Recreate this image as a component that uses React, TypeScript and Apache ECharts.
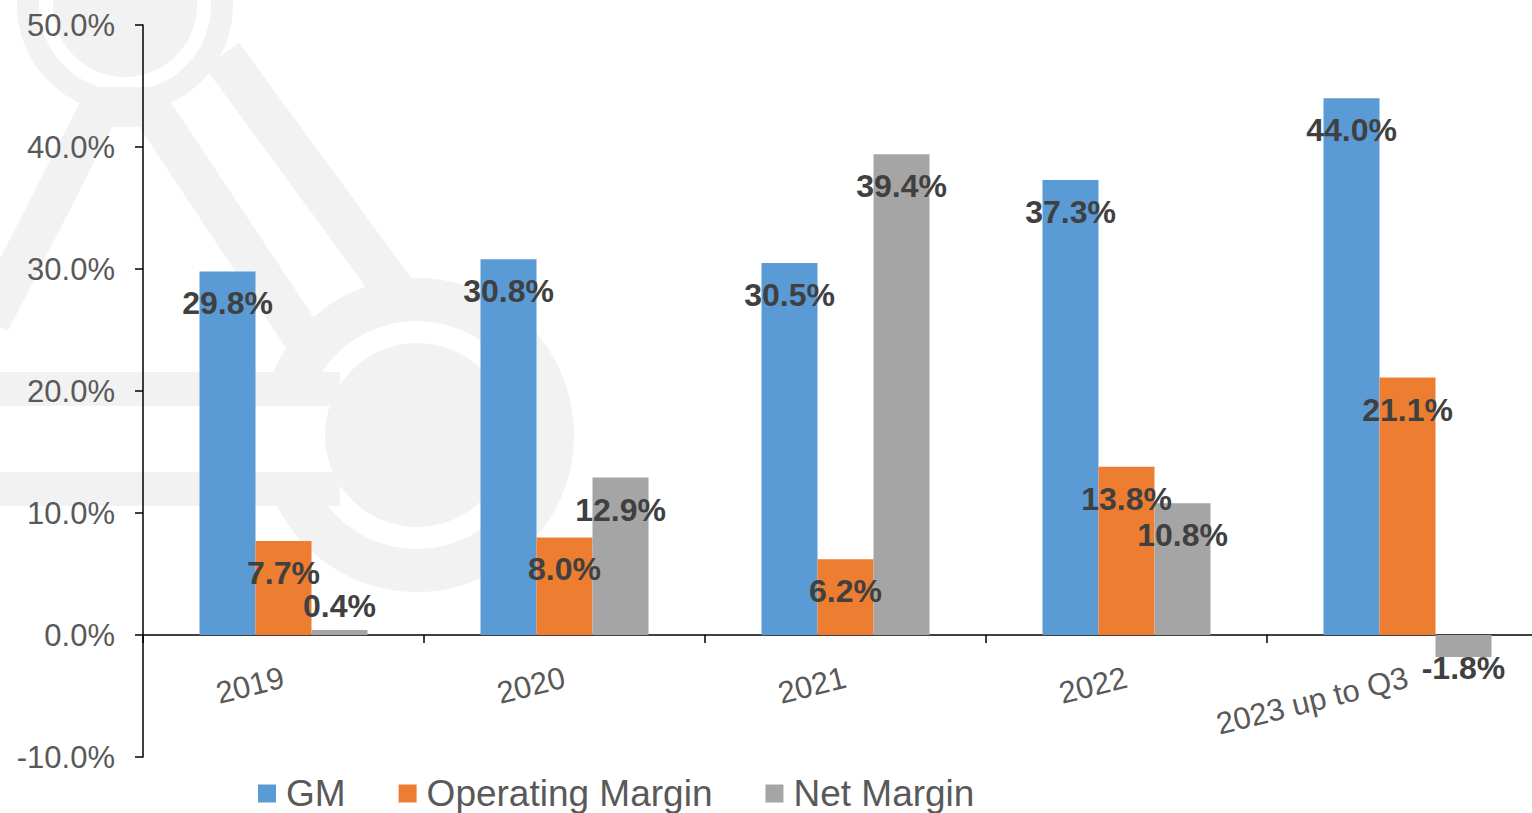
import React, { useEffect, useRef } from "react";
import * as echarts from "echarts";

const categories = ["2019", "2020", "2021", "2022", "2023 up to Q3"];
const gm = [29.8, 30.8, 30.5, 37.3, 44.0];
const operatingMargin = [7.7, 8.0, 6.2, 13.8, 21.1];
const netMargin = [0.4, 12.9, 39.4, 10.8, -1.8];
const seriesNames = ["GM", "Operating Margin", "Net Margin"];
const colors = ["#5B9BD5", "#ED7D31", "#A5A5A5"];
const yMin = -10;
const yMax = 50;
const yStep = 10;

const FONT = "'Liberation Sans', Arial, sans-serif";
const WM = "#f2f2f2";

function labelFor(v: number) {
  if (v < 0) return { position: "outside", distance: -5 };
  if (v < 3) return { position: "top", distance: 8 };
  return { position: "insideTop", distance: 16 };
}

export default function App() {
  const ref = useRef<HTMLDivElement>(null);
  useEffect(() => {
    document.body.style.margin = "0";
    const chart = echarts.init(ref.current!, undefined, { renderer: "svg" });
    const mk = (name: string, data: number[], color: string) => ({
      name,
      type: "bar",
      barWidth: 56,
      barGap: "0%",
      itemStyle: { color },
      data: data.map((v) => ({ value: v, label: labelFor(v) })),
      label: {
        show: true,
        formatter: (p: any) => p.value.toFixed(1) + "%",
        fontFamily: FONT,
        fontSize: 32,
        fontWeight: "bold",
        color: "#404040",
      },
    });
    chart.setOption({
      animation: false,
      backgroundColor: "#ffffff",
      textStyle: { fontFamily: FONT },
      graphic: [
        { type: "circle", z: -10, shape: { cx: 125, cy: 5, r: 72 }, style: { fill: WM } },
        { type: "ring", z: -10, shape: { cx: 125, cy: 5, r: 108, r0: 86 }, style: { fill: WM } },
        { type: "ring", z: -10, shape: { cx: 417, cy: 435, r: 157, r0: 114 }, style: { fill: WM } },
        { type: "rect", z: -9, shape: { x: 240, y: 406, width: 100, height: 66 }, style: { fill: "#ffffff" } },
        { type: "line", z: -9, shape: { x1: -10, y1: 389, x2: 340, y2: 389 }, style: { stroke: WM, lineWidth: 34 } },
        { type: "line", z: -9, shape: { x1: -10, y1: 489, x2: 340, y2: 489 }, style: { stroke: WM, lineWidth: 34 } },
        { type: "circle", z: -8, shape: { cx: 417, cy: 435, r: 92 }, style: { fill: WM } },
        { type: "line", z: -10, shape: { x1: 222, y1: 55, x2: 405, y2: 305 }, style: { stroke: WM, lineWidth: 42 } },
        {
          type: "polyline",
          z: -10,
          shape: { points: [[-10, 322], [100, 107], [150, 107], [318, 360]] },
          style: { stroke: WM, lineWidth: 40, fill: null, lineJoin: "miter" },
        },
      ],
      grid: { left: 143, top: 25, width: 1405, height: 732, outerBoundsMode: "none" },
      legend: {
        left: 253,
        top: 770,
        itemWidth: 18,
        itemHeight: 18,
        itemGap: 53,
        icon: "rect",
        data: seriesNames,
        textStyle: { fontFamily: FONT, fontSize: 37, color: "#595959", padding: [0, 0, 0, 5] },
      },
      xAxis: {
        type: "category",
        data: categories,
        offset: -122,
        axisLine: { show: true, onZero: false, lineStyle: { color: "#000", width: 1.5 } },
        axisTick: { show: true, length: 8, lineStyle: { color: "#000", width: 1.5 } },
        axisLabel: {
          rotate: 14,
          margin: 42,
          fontFamily: FONT,
          fontSize: 31,
          color: "#595959",
          interval: 0,
        },
        splitLine: { show: false },
      },
      yAxis: {
        type: "value",
        min: yMin,
        max: yMax,
        interval: yStep,
        axisLine: { show: true, lineStyle: { color: "#000", width: 1.5 } },
        axisTick: { show: true, length: 8, lineStyle: { color: "#000", width: 1.5 } },
        axisLabel: {
          margin: 28,
          fontFamily: FONT,
          fontSize: 31,
          color: "#595959",
          formatter: (v: number) => v.toFixed(1) + "%",
        },
        splitLine: { show: false },
      },
      series: [
        mk(seriesNames[0], gm, colors[0]),
        mk(seriesNames[1], operatingMargin, colors[1]),
        mk(seriesNames[2], netMargin, colors[2]),
      ],
    });
    return () => chart.dispose();
  }, []);
  return <div ref={ref} style={{ width: 1532, height: 813 }} />;
}
